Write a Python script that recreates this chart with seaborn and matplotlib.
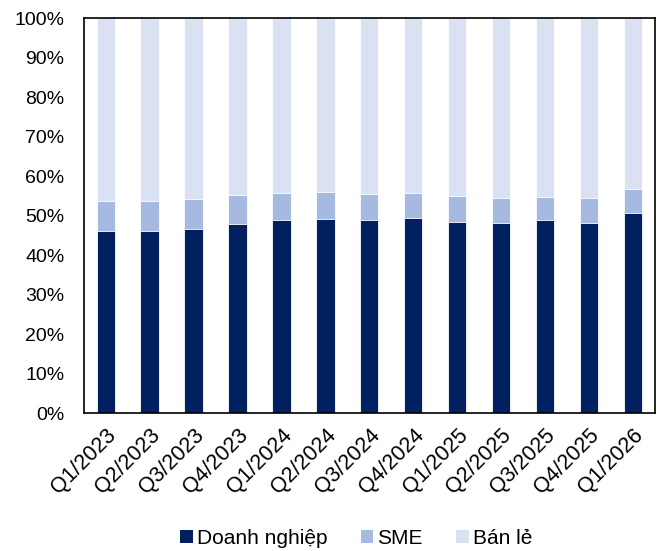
import matplotlib
matplotlib.use('Agg')
import matplotlib.pyplot as plt
import seaborn as sns
import pandas as pd
from matplotlib.patches import Patch
from matplotlib.ticker import PercentFormatter

quarters = ['Q1/2023', 'Q2/2023', 'Q3/2023', 'Q4/2023', 'Q1/2024', 'Q2/2024', 'Q3/2024',
            'Q4/2024', 'Q1/2025', 'Q2/2025', 'Q3/2025', 'Q4/2025', 'Q1/2026']
doanh_nghiep = [46.1, 46.1, 46.6, 48.0, 48.9, 49.2, 48.9, 49.3, 48.5, 48.2, 48.9, 48.2, 50.8]
sme = [7.6, 7.6, 7.7, 7.2, 6.8, 6.7, 6.6, 6.4, 6.4, 6.2, 5.9, 6.2, 5.9]
ban_le = [100 - a - b for a, b in zip(doanh_nghiep, sme)]

labels = ['Doanh nghiệp', 'SME', 'Bán lẻ']
colors = ['#002060', '#A6B9E1', '#D9E1F3']

df = pd.DataFrame({'quarter': quarters, 'dn': doanh_nghiep, 'sme': sme, 'bl': ban_le})
df['top_sme'] = df['dn'] + df['sme']
df['top_bl'] = df['top_sme'] + df['bl']

sns.set_style('white')
plt.rcParams['font.family'] = ['Liberation Sans', 'DejaVu Sans']
plt.rcParams['text.color'] = 'black'
plt.rcParams['xtick.color'] = 'black'
plt.rcParams['ytick.color'] = 'black'

fig, ax = plt.subplots(figsize=(6.6, 5.51), dpi=100)
for col, c in zip(['top_bl', 'top_sme', 'dn'], colors[::-1]):
    sns.barplot(data=df, x='quarter', y=col, color=c, width=0.42, ax=ax,
                edgecolor='white', linewidth=0.6, saturation=1)

ax.set_ylim(0, 100)
ax.set_yticks(range(0, 101, 10))
ax.yaxis.set_major_formatter(PercentFormatter(decimals=0))
ax.set_xlabel('')
ax.set_ylabel('')
ax.tick_params(axis='both', length=0)
ax.tick_params(axis='y', pad=14, labelsize=14)
ax.tick_params(axis='x', pad=8, labelsize=15.5)
plt.setp(ax.get_xticklabels(), rotation=45, ha='right', rotation_mode='anchor')
for s in ax.spines.values():
    s.set_visible(True)
    s.set_color('black')
    s.set_linewidth(1.2)

handles = [Patch(facecolor=c, edgecolor='none') for c in colors]
fig.legend(handles, labels, loc='lower center', ncol=3, frameon=False, fontsize=15,
           handlelength=0.6, handleheight=0.6, handletextpad=0.2, columnspacing=1.6,
           bbox_to_anchor=(0.54, -0.028))

plt.subplots_adjust(left=0.127, right=0.992, top=0.967, bottom=0.25)
fig.savefig('out.png', dpi=100)
